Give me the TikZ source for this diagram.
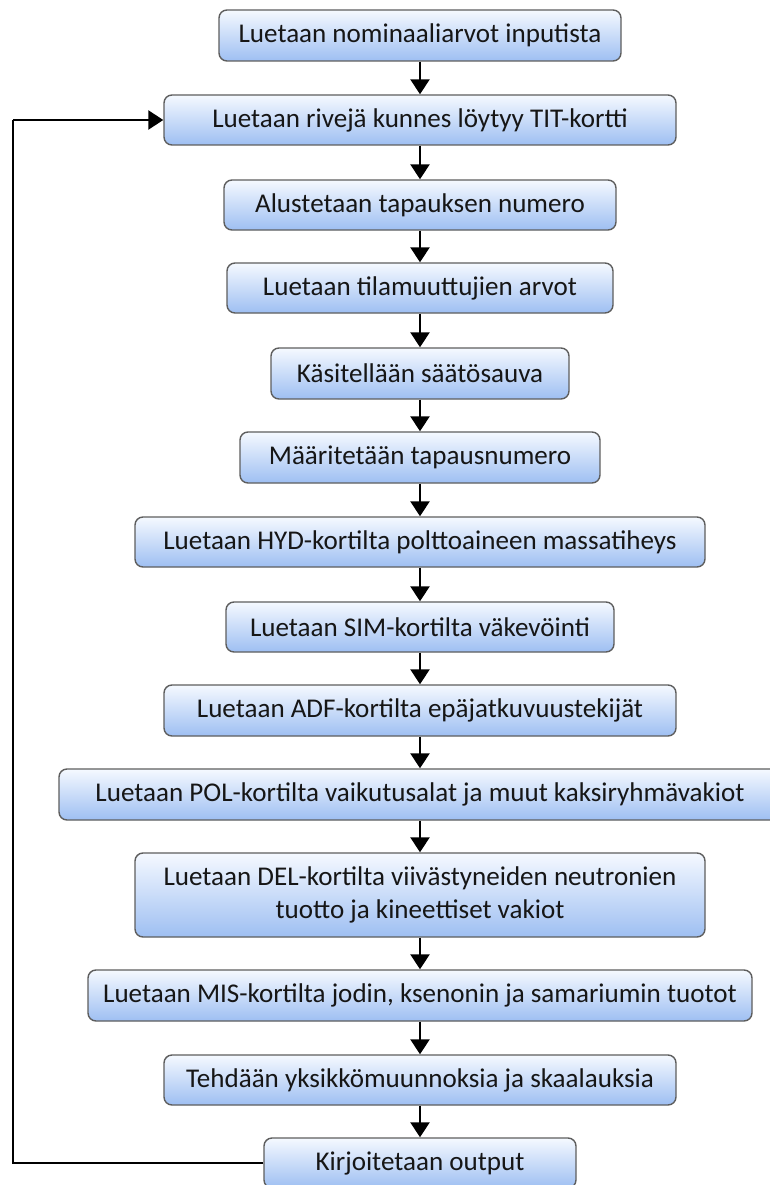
\documentclass[tikz,border=0pt]{standalone}
\usepackage{fontspec}
\setmainfont{Carlito}
\usetikzlibrary{arrows.meta}
\definecolor{boxtop}{HTML}{F5F9FF}
\definecolor{boxbot}{HTML}{9EBFF2}
\definecolor{boxedge}{HTML}{5E5E5E}
\definecolor{steptext}{HTML}{161616}
\tikzset{
  stepbox/.style={draw=boxedge, line width=0.8pt, rounded corners=1.6mm, top color=boxtop, bottom color=boxbot, inner sep=0pt, align=center, text=steptext, font=\fontsize{15.4}{18.8}\selectfont},
  flow/.style={-{Triangle[length=3.0mm, width=3.8mm]}, draw=black, line width=1.4pt},
  loopline/.style={draw=black, line width=1.4pt},
}

\begin{document}
\begin{tikzpicture}[x=1cm,y=1cm]
  \useasboundingbox (0.000,0.000) rectangle (15.380,-23.700);
  \node[stepbox, minimum width=8.04cm, minimum height=1.02cm] (nominal) at (8.400,-0.710) {Luetaan nominaaliarvot inputista};
  \node[stepbox, minimum width=10.24cm, minimum height=1.00cm] (tit) at (8.400,-2.400) {Luetaan rivejä kunnes löytyy TIT-kortti};
  \node[stepbox, minimum width=7.84cm, minimum height=1.00cm] (caseinit) at (8.400,-4.100) {Alustetaan tapauksen numero};
  \node[stepbox, minimum width=7.72cm, minimum height=1.00cm] (statevars) at (8.400,-5.760) {Luetaan tilamuuttujien arvot};
  \node[stepbox, minimum width=5.96cm, minimum height=1.02cm] (rod) at (8.400,-7.470) {Käsitellään säätösauva};
  \node[stepbox, minimum width=7.20cm, minimum height=1.02cm] (casenum) at (8.400,-9.150) {Määritetään tapausnumero};
  \node[stepbox, minimum width=11.40cm, minimum height=1.00cm] (hyd) at (8.400,-10.840) {Luetaan HYD-kortilta polttoaineen massatiheys};
  \node[stepbox, minimum width=7.76cm, minimum height=1.00cm] (sim) at (8.400,-12.540) {Luetaan SIM-kortilta väkevöinti};
  \node[stepbox, minimum width=10.24cm, minimum height=1.02cm] (adf) at (8.400,-14.210) {Luetaan ADF-kortilta epäjatkuvuustekijät};
  \node[stepbox, minimum width=14.44cm, minimum height=1.02cm] (pol) at (8.400,-15.890) {Luetaan POL-kortilta vaikutusalat ja muut kaksiryhmävakiot};
  \node[stepbox, minimum width=11.40cm, minimum height=1.68cm] (del) at (8.400,-17.900) {Luetaan DEL-kortilta viivästyneiden neutronien\\tuotto ja kineettiset vakiot};
  \node[stepbox, minimum width=13.28cm, minimum height=1.02cm] (mis) at (8.400,-19.910) {Luetaan MIS-kortilta jodin, ksenonin ja samariumin tuotot};
  \node[stepbox, minimum width=10.24cm, minimum height=1.00cm] (units) at (8.400,-21.600) {Tehdään yksikkömuunnoksia ja skaalauksia};
  \node[stepbox, minimum width=6.24cm, minimum height=1.00cm] (output) at (8.400,-23.260) {Kirjoitetaan output};
  \coordinate (loopbot) at (0.260,-23.260);
  \coordinate (looptop) at (0.260,-2.400);
  \draw[flow] (nominal) -- (tit);
  \draw[flow] (tit) -- (caseinit);
  \draw[flow] (caseinit) -- (statevars);
  \draw[flow] (statevars) -- (rod);
  \draw[flow] (rod) -- (casenum);
  \draw[flow] (casenum) -- (hyd);
  \draw[flow] (hyd) -- (sim);
  \draw[flow] (sim) -- (adf);
  \draw[flow] (adf) -- (pol);
  \draw[flow] (pol) -- (del);
  \draw[flow] (del) -- (mis);
  \draw[flow] (mis) -- (units);
  \draw[flow] (units) -- (output);
  \draw[loopline] (output.west) -- (loopbot) -- (looptop);
  \draw[flow] (looptop) -- (tit.west);
\end{tikzpicture}
\end{document}
